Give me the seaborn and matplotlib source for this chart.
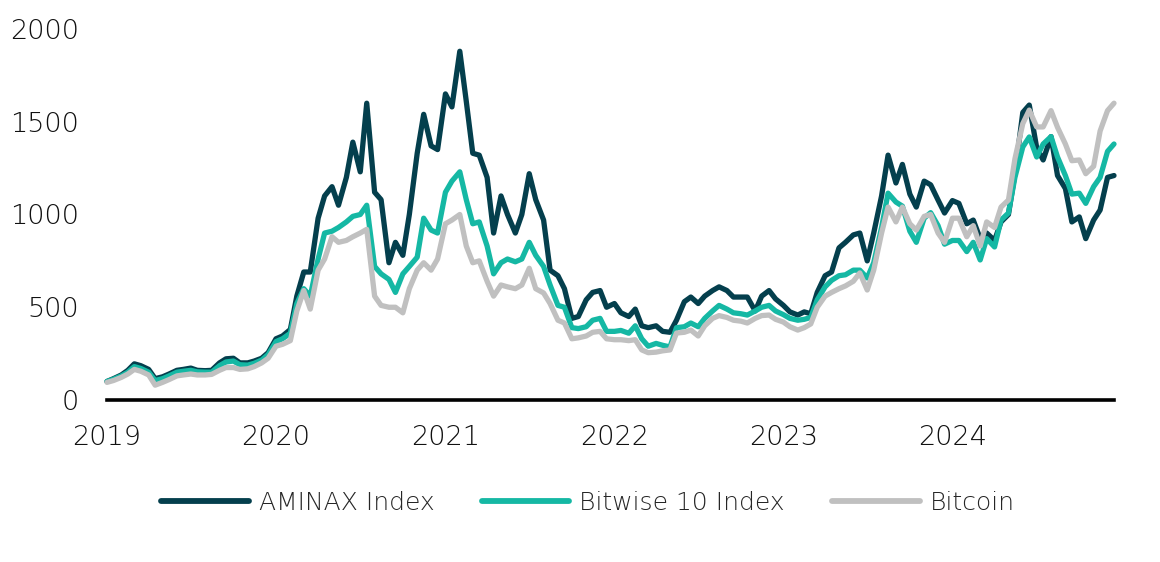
import pandas as pd
import numpy as np
import matplotlib
matplotlib.use("Agg")
import matplotlib.pyplot as plt
import matplotlib.dates as mdates
import seaborn as sns

# semi-monthly points (1st and 15th of each month)
dates = pd.date_range("2019-01-01", "2024-12-15", freq="SMS")

aminax = [
    # 2019
    100, 115, 135, 160, 195, 185, 165, 115, 125, 140, 160, 165,
    172, 160, 158, 160, 200, 222, 225, 200, 200, 210, 225, 255,
    # 2020
    330, 345, 380, 560, 690, 690, 980, 1100, 1150, 1050, 1200, 1390,
    1230, 1600, 1120, 1080, 740, 850, 780, 1000, 1330, 1540, 1370, 1350,
    # 2021
    1650, 1580, 1880, 1610, 1330, 1320, 1200, 900, 1100, 1000, 900, 1000,
    1220, 1080, 970, 700, 670, 600, 440, 450, 540, 580, 590, 500,
    # 2022
    520, 470, 450, 490, 400, 390, 400, 370, 365, 430, 530, 555,
    520, 560, 590, 610, 590, 555, 555, 555, 480, 560, 590, 545,
    # 2023
    510, 475, 458, 475, 465, 580, 670, 690, 820, 850, 890, 900,
    750, 900, 1100, 1320, 1170, 1270, 1110, 1040, 1180, 1160, 1078, 1008,
    # 2024
    1075, 1060, 950, 970, 870, 900, 860, 960, 1000, 1220, 1550, 1590,
    1360, 1294, 1420, 1210, 1140, 960, 987, 870, 970, 1024, 1200, 1210,
]

bitwise = [
    # 2019
    100, 112, 130, 150, 180, 170, 150, 105, 115, 130, 150, 155,
    160, 152, 150, 150, 185, 205, 210, 190, 188, 198, 215, 245,
    # 2020
    315, 330, 360, 520, 600, 560, 760, 900, 910, 930, 960, 990,
    1000, 1050, 720, 680, 650, 580, 680, 720, 770, 980, 916, 900,
    # 2021
    1120, 1180, 1230, 1080, 950, 960, 830, 680, 740, 760, 745, 760,
    850, 780, 720, 620, 510, 500, 390, 385, 395, 430, 440, 370,
    # 2022
    370, 375, 360, 400, 330, 290, 305, 295, 286, 390, 395, 415,
    395, 440, 480, 510, 490, 470, 465, 458, 480, 500, 510, 480,
    # 2023
    460, 440, 430, 435, 445, 540, 610, 645, 670, 675, 700, 700,
    658, 740, 930, 1115, 1067, 1045, 910, 850, 980, 1010, 940, 840,
    # 2024
    860, 860, 800, 850, 755, 870, 825, 970, 1008, 1200, 1364, 1418,
    1310, 1380, 1420, 1310, 1210, 1110, 1115, 1060, 1150, 1200, 1340, 1380,
]

bitcoin = [
    # 2019
    95, 105, 122, 140, 165, 155, 135, 80, 95, 110, 130, 135,
    140, 135, 135, 138, 160, 175, 175, 165, 168, 180, 200, 225,
    # 2020
    290, 300, 320, 480, 590, 490, 700, 760, 880, 850, 860, 880,
    900, 920, 560, 510, 500, 500, 470, 600, 700, 740, 700, 760,
    # 2021
    950, 970, 1000, 830, 740, 750, 640, 560, 620, 610, 600, 620,
    710, 600, 577, 520, 430, 415, 330, 335, 345, 365, 370, 330,
    # 2022
    325, 325, 320, 325, 270, 255, 258, 265, 270, 361, 365, 377,
    345, 400, 440, 455, 445, 430, 425, 415, 440, 455, 458, 435,
    # 2023
    420, 395, 377, 390, 410, 500, 560, 580, 600, 615, 640, 685,
    593, 700, 900, 1040, 960, 1040, 950, 916, 990, 1000, 900, 850,
    # 2024
    980, 980, 880, 940, 830, 960, 930, 1040, 1078, 1300, 1490, 1563,
    1472, 1472, 1560, 1470, 1380, 1290, 1294, 1220, 1260, 1450, 1560, 1600,
]

series_names = ["AMINAX Index", "Bitwise 10 Index", "Bitcoin"]
colors = ["#043F4D", "#15B8A4", "#C0C0C0"]

df = pd.DataFrame({
    "date": np.tile(dates, 3),
    "value": aminax + bitwise + bitcoin,
    "series": np.repeat(series_names, len(dates)),
})

sns.set_style("white")
plt.rcParams["font.family"] = ["DejaVu Sans"]
plt.rcParams["lines.solid_capstyle"] = "round"
plt.rcParams["lines.solid_joinstyle"] = "round"

fig = plt.figure(figsize=(11.6, 5.62), dpi=100)
ax = fig.add_axes([107 / 1160, 1 - 400 / 562, (1114 - 107) / 1160, 371 / 562])

sns.lineplot(data=df, x="date", y="value", hue="series", hue_order=series_names,
             palette=colors, linewidth=3.8, ax=ax, legend=False)
for ln in ax.lines:
    ln.set_clip_on(False)

ax.set_xlim(dates[0], dates[-1])
ax.set_ylim(0, 2000)
ax.set_yticks([0, 500, 1000, 1500, 2000])
ax.xaxis.set_major_locator(mdates.YearLocator())
ax.xaxis.set_major_formatter(mdates.DateFormatter("%Y"))
ax.set_xlabel("")
ax.set_ylabel("")

for side in ["top", "right", "left"]:
    ax.spines[side].set_visible(False)
ax.spines["bottom"].set_color("black")
ax.spines["bottom"].set_linewidth(2.6)
ax.tick_params(axis="both", length=0, labelsize=19.5, labelcolor="#111111")
ax.tick_params(axis="x", pad=18)
ax.tick_params(axis="y", pad=20)
for lbl in ax.get_xticklabels() + ax.get_yticklabels():
    lbl.set_fontweight("light")

handles = [plt.Line2D([], [], color=c, linewidth=4.2) for c in colors]
leg = fig.legend(handles, series_names, loc="center", bbox_to_anchor=(588 / 1160, 1 - 503 / 562),
                 ncol=3, frameon=False, fontsize=18, handlelength=3.5, handletextpad=0.4,
                 columnspacing=1.9)
for t in leg.get_texts():
    t.set_fontweight("light")

fig.savefig("out.png", dpi=100)
